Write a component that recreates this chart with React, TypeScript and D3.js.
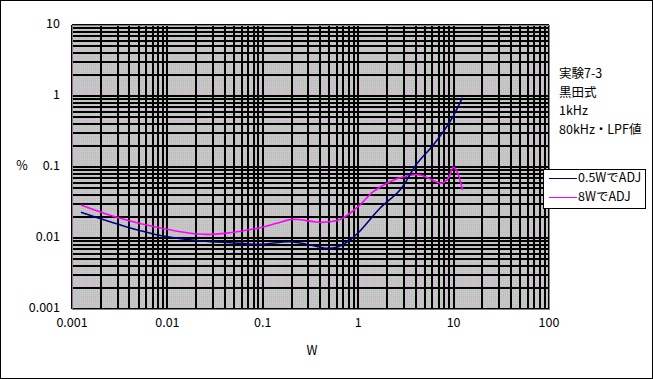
import React from "react";
import * as d3 from "d3";

const xTickValues = [0.001, 0.01, 0.1, 1, 10, 100];
const xTickLabels = ["0.001", "0.01", "0.1", "1", "10", "100"];
const yTickValues = [10, 1, 0.1, 0.01, 0.001];
const yTickLabels = ["10", "1", "0.1", "0.01", "0.001"];

const notes = ["実験7-3", "黒田式", "1kHz", "80kHz・LPF値"];
const seriesNames = ["0.5WでADJ", "8WでADJ"];
const seriesColors = ["#000080", "#ff00ff"];

// W values (x) and distortion % (y)
const navyW = [0.00124, 0.00305, 0.0087, 0.0229, 0.0453, 0.0935, 0.193, 0.313, 0.468, 0.596, 0.82, 1.045, 1.69, 2.74, 4.1, 6.12, 9.17, 12.4];
const navyPct = [0.023, 0.0156, 0.01077, 0.00908, 0.00859, 0.00815, 0.00887, 0.00797, 0.00716, 0.0074, 0.00937, 0.01256, 0.0262, 0.0474, 0.11, 0.204, 0.435, 0.946];

const magW = [0.00124, 0.00305, 0.0087, 0.0229, 0.0453, 0.0935, 0.14, 0.201, 0.313, 0.414, 0.644, 0.82, 1.045, 1.44, 2.15, 3.22, 4.45, 6.12, 7.5, 8.8, 9.93, 10.8, 12.4];
const magPct = [0.0292, 0.0193, 0.0137, 0.01127, 0.01188, 0.01396, 0.0161, 0.0183, 0.0173, 0.0166, 0.0182, 0.0223, 0.0292, 0.0449, 0.0621, 0.0747, 0.0771, 0.0645, 0.0589, 0.0693, 0.0993, 0.0879, 0.0474];

const W = 653;
const H = 379;
const FONT = "'Noto Sans CJK JP', 'Liberation Sans', sans-serif";

export default function App() {
  const x = d3.scaleLog().domain([0.001, 100]).range([72, 549]);
  const y = d3.scaleLog().domain([0.001, 10]).range([309, 25]);

  const xGrid: number[] = [];
  for (let e = -3; e < 2; e++) for (let k = 1; k <= 9; k++) xGrid.push(k * Math.pow(10, e));
  xGrid.push(100);
  const yGrid: number[] = [];
  for (let e = -3; e < 1; e++) for (let k = 1; k <= 9; k++) yGrid.push(k * Math.pow(10, e));
  yGrid.push(10);

  const line = d3
    .line<[number, number]>()
    .x((d) => x(d[0]))
    .y((d) => y(d[1]))
    .curve(d3.curveCatmullRom.alpha(0.5));

  const navyData = navyW.map((w, i) => [w, navyPct[i]] as [number, number]);
  const magData = magW.map((w, i) => [w, magPct[i]] as [number, number]);

  const [x0, x1] = x.range();
  const [y0, y1] = [y(10), y(0.001)];
  const px = (v: number) => Math.round(v);

  return (
    <svg
      width={W}
      height={H}
      style={{ position: "fixed", left: 0, top: 0, background: "#fff" }}
      fontFamily={FONT}
      fontSize={12.5}
    >
      <defs>
        <pattern id="dither" width={2} height={2} patternUnits="userSpaceOnUse">
          <rect x={0} y={0} width={1} height={1} fill="#c0c0c0" />
          <rect x={1} y={1} width={1} height={1} fill="#c0c0c0" />
          <rect x={1} y={0} width={1} height={1} fill="#f0a0f0" />
          <rect x={0} y={1} width={1} height={1} fill="#a0f0a0" />
        </pattern>
        <clipPath id="plotclip">
          <rect x={x0} y={y0} width={x1 - x0} height={y1 - y0} />
        </clipPath>
      </defs>
      <rect x={0.5} y={0.5} width={W - 1} height={H - 1} fill="#fff" stroke="#000" />
      <rect x={x0} y={y0} width={x1 - x0} height={y1 - y0} fill="url(#dither)" />
      <g stroke="#000" strokeWidth={1.5} shapeRendering="crispEdges">
        {xGrid.map((v, i) => (
          <line key={"gx" + i} x1={px(x(v))} x2={px(x(v))} y1={y0} y2={y1} />
        ))}
        {yGrid.map((v, i) => (
          <line key={"gy" + i} x1={x0} x2={x1} y1={px(y(v))} y2={px(y(v))} />
        ))}
      </g>
      <rect x={x0 + 0.5} y={y0 + 0.5} width={x1 - x0} height={y1 - y0} fill="none" stroke="#808080" shapeRendering="crispEdges" />
      <g clipPath="url(#plotclip)" fill="none" strokeWidth={1.6}>
        <path d={line(magData) || ""} stroke={seriesColors[1]} />
        <path d={line(navyData) || ""} stroke={seriesColors[0]} />
      </g>
      {xTickValues.map((v, i) => (
        <text key={"xt" + i} x={x(v)} y={324} textAnchor="middle" dominantBaseline="middle">
          {xTickLabels[i]}
        </text>
      ))}
      {yTickValues.map((v, i) => (
        <text key={"yt" + i} x={60} y={y(v)} textAnchor="end" dominantBaseline="middle">
          {yTickLabels[i]}
        </text>
      ))}
      <text x={22} y={167} textAnchor="middle" dominantBaseline="middle">%</text>
      <text x={312} y={352} textAnchor="middle" dominantBaseline="middle">W</text>
      {notes.map((t, i) => (
        <text key={"n" + i} x={559} y={75 + i * 18.5} dominantBaseline="middle">
          {t}
        </text>
      ))}
      <rect x={543.5} y={169.5} width={102} height={39} fill="#fff" stroke="#000" />
      {seriesNames.map((s, i) => (
        <g key={"lg" + i}>
          <line x1={549} x2={577} y1={178.5 + i * 19} y2={178.5 + i * 19} stroke={seriesColors[i]} strokeWidth={1} />
          <text x={578} y={178.5 + i * 19} dominantBaseline="middle">
            {s}
          </text>
        </g>
      ))}
    </svg>
  );
}
